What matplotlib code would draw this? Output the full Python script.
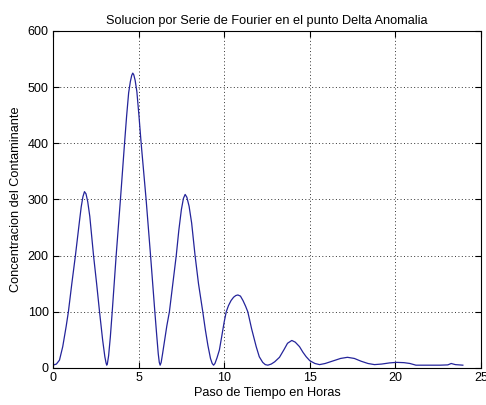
import numpy as np
import matplotlib
matplotlib.use('Agg')
import matplotlib.pyplot as plt

# valores (horas, concentracion)
horas = [0.0, 0.2, 0.38, 0.57, 0.77, 0.9, 1.1, 1.31, 1.55, 1.65, 1.75, 1.84, 1.93, 2.03, 2.15,
         2.37, 2.55, 2.72, 2.9, 3.03, 3.1, 3.14, 3.18, 3.25, 3.35, 3.46, 3.69, 3.94, 4.18, 4.3,
         4.42, 4.52, 4.6, 4.66, 4.72, 4.8, 4.9, 5.02, 5.15, 5.44, 5.7, 5.95, 6.06, 6.15, 6.21,
         6.26, 6.32, 6.4, 6.5, 6.65, 6.8, 7.2, 7.35, 7.5, 7.62, 7.72, 7.82, 7.95, 8.1, 8.3,
         8.5, 8.75, 8.9, 9.05, 9.2, 9.3, 9.38, 9.46, 9.58, 9.72, 9.85, 10.0, 10.12, 10.25, 10.4,
         10.55, 10.68, 10.8, 10.95, 11.1, 11.25, 11.38, 11.6, 11.87, 12.05, 12.25, 12.4, 12.55,
         12.75, 12.95, 13.23, 13.5, 13.7, 13.95, 14.15, 14.4, 14.6, 14.79, 15.0, 15.3, 15.57,
         15.9, 16.3, 16.8, 17.2, 17.6, 18.0, 18.4, 18.78, 19.2, 19.65, 20.05, 20.5, 20.85, 21.2,
         22.0, 22.6, 23.06, 23.26, 23.5, 23.94]
concentracion = [5, 7, 14, 38, 74, 100, 150, 200, 262, 287, 305, 314, 310, 296, 270,
                 200, 150, 100, 50, 20, 9, 5, 8, 22, 55, 100, 200, 300, 400, 448,
                 490, 510, 521, 525, 522, 512, 492, 450, 400, 300, 200, 100, 58, 25, 10,
                 5, 10, 25, 45, 75, 100, 200, 245, 282, 302, 309, 304, 288, 258, 200,
                 150, 100, 68, 40, 17, 8, 5, 8, 18, 32, 55, 82, 100, 111, 120,
                 126, 129, 130, 128, 120, 110, 100, 70, 38, 20, 10, 6, 5,
                 7, 11, 19, 33, 44, 49, 46, 38, 28, 20, 13, 8, 6,
                 8, 12, 17, 19, 17, 12, 8, 6, 7, 9, 10, 9.5, 8, 5,
                 5, 5, 5.5, 8, 6, 5]

plt.rcParams['font.family'] = ['Liberation Sans', 'DejaVu Sans']

fig = plt.figure(figsize=(4.86, 4.05), dpi=100)
ax = fig.add_axes([0.109, 0.0914, 0.8807, 0.8321])

ax.plot(horas, concentracion, color='#24249a', linewidth=0.9)

ax.set_xlim(0, 25)
ax.set_ylim(0, 600)
ax.set_xticks([0, 5, 10, 15, 20, 25])
ax.set_yticks([0, 100, 200, 300, 400, 500, 600])
ax.grid(True, color='#333333', linestyle=(0, (1, 2.5)), linewidth=0.7)
ax.tick_params(direction='in', top=True, right=True, labelsize=9, length=4, width=0.8, pad=3)
for s in ax.spines.values():
    s.set_linewidth(0.8)

ax.set_title('Solucion por Serie de Fourier en el punto Delta Anomalia', fontsize=9.2, pad=5)
ax.set_xlabel('Paso de Tiempo en Horas', fontsize=9.2, labelpad=2)
ax.set_ylabel('Concentracion del Contaminante', fontsize=9.2, labelpad=4)

fig.savefig('out.png', dpi=100)
